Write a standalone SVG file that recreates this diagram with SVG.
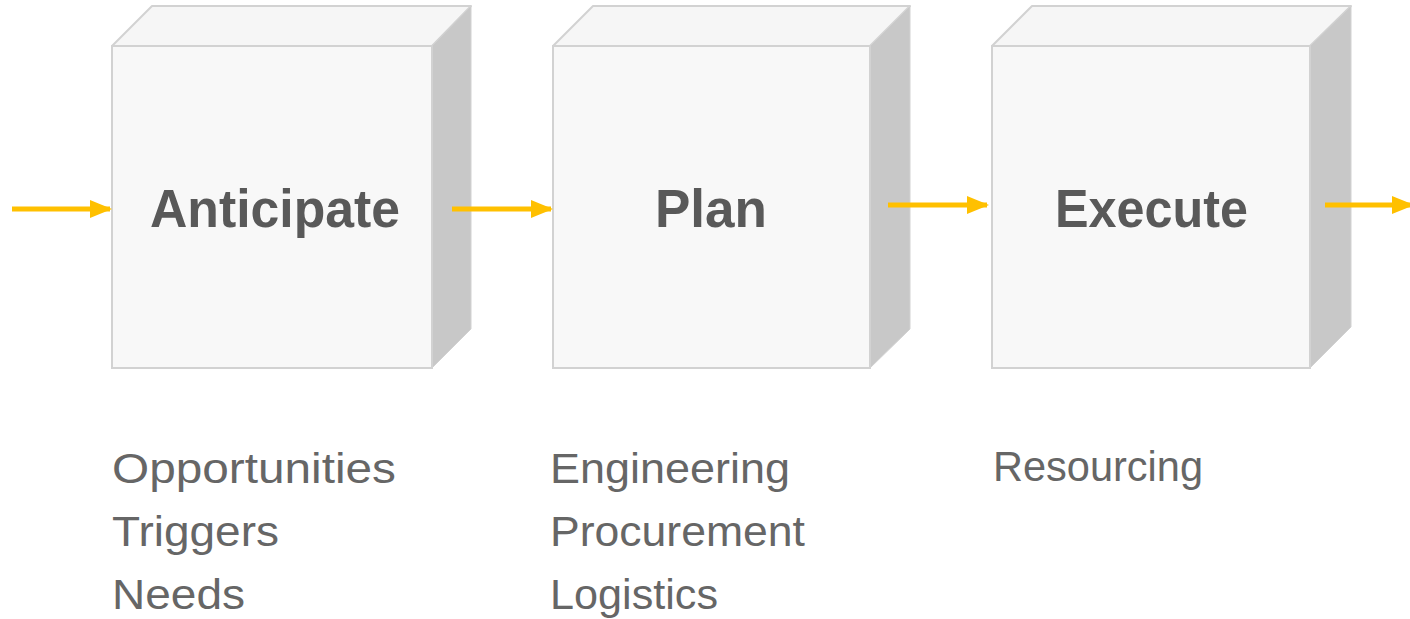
<svg xmlns="http://www.w3.org/2000/svg" width="1410" height="619" viewBox="0 0 1410 619">
  <defs>
    <style>
      .front { fill: #f8f8f8; stroke: #d2d2d2; stroke-width: 2; }
      .top { fill: #f6f6f6; stroke: #d2d2d2; stroke-width: 2; stroke-linejoin: round; }
      .side { fill: #c8c8c8; stroke: #d2d2d2; stroke-width: 1; }
      .title { font-family: "Liberation Sans", Arial, sans-serif; font-weight: bold; font-size: 54px; fill: #595959; }
      .item { font-family: "Liberation Sans", Arial, sans-serif; font-size: 43px; fill: #666666; }
      .flow { stroke: #ffc000; stroke-width: 5; fill: none; }
    </style>
    <marker id="head" markerWidth="4.4" markerHeight="3.6" refX="4" refY="1.8" orient="auto" markerUnits="strokeWidth">
      <path d="M0,0 L4.4,1.8 L0,3.6 Z" fill="#ffc000"/>
    </marker>
  </defs>

  <rect width="1410" height="619" fill="#ffffff"/>

  <!-- process stage blocks -->
  <g id="anticipate">
    <polygon class="top" points="112,46 152,6 471,6 432,46"/>
    <polygon class="side" points="432,46 471,6 471,329 432,368"/>
    <rect class="front" x="112" y="46" width="320" height="322"/>
    <text class="title" x="150" y="227" textLength="250" lengthAdjust="spacingAndGlyphs">Anticipate</text>
  </g>

  <g id="plan">
    <polygon class="top" points="553,46 593,6 910,6 870,46"/>
    <polygon class="side" points="870,46 910,6 910,329 870,368"/>
    <rect class="front" x="553" y="46" width="317" height="322"/>
    <text class="title" x="655" y="227" textLength="112" lengthAdjust="spacingAndGlyphs">Plan</text>
  </g>

  <g id="execute">
    <polygon class="top" points="992,46 1032,6 1351,6 1310,46"/>
    <polygon class="side" points="1310,46 1351,6 1351,327 1310,368"/>
    <rect class="front" x="992" y="46" width="318" height="322"/>
    <text class="title" x="1055" y="227" textLength="193" lengthAdjust="spacingAndGlyphs">Execute</text>
  </g>

  <!-- flow arrows between stages -->
  <g id="connectors">
    <line class="flow" x1="12" y1="209" x2="110" y2="209" marker-end="url(#head)"/>
    <line class="flow" x1="452" y1="209" x2="551" y2="209" marker-end="url(#head)"/>
    <line class="flow" x1="888" y1="205" x2="987" y2="205" marker-end="url(#head)"/>
    <line class="flow" x1="1325" y1="205" x2="1412" y2="205" marker-end="url(#head)"/>
  </g>

  <!-- stage activities -->
  <g id="anticipate-items">
    <text class="item" x="112" y="483" textLength="284" lengthAdjust="spacingAndGlyphs">Opportunities</text>
    <text class="item" x="112" y="546" textLength="167" lengthAdjust="spacingAndGlyphs">Triggers</text>
    <text class="item" x="112" y="609" textLength="133" lengthAdjust="spacingAndGlyphs">Needs</text>
  </g>
  <g id="plan-items">
    <text class="item" x="550" y="483" textLength="240" lengthAdjust="spacingAndGlyphs">Engineering</text>
    <text class="item" x="550" y="546" textLength="255" lengthAdjust="spacingAndGlyphs">Procurement</text>
    <text class="item" x="550" y="609" textLength="168" lengthAdjust="spacingAndGlyphs">Logistics</text>
  </g>
  <g id="execute-items">
    <text class="item" x="993" y="481" textLength="210" lengthAdjust="spacingAndGlyphs">Resourcing</text>
  </g>
</svg>
